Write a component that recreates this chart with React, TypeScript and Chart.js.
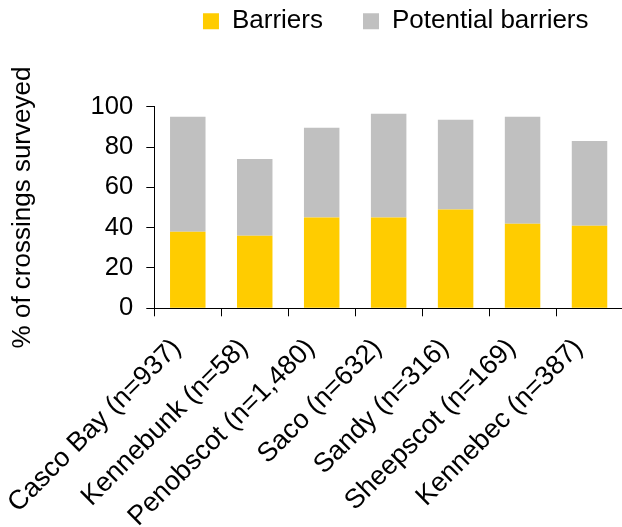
import React, { useEffect, useRef } from "react";
import { Chart, registerables } from "chart.js";

Chart.register(...registerables);

const categories = [
  "Casco Bay (n=937)",
  "Kennebunk (n=58)",
  "Penobscot (n=1,480)",
  "Saco (n=632)",
  "Sandy (n=316)",
  "Sheepscot (n=169)",
  "Kennebec (n=387)",
];
const seriesNames = ["Barriers", "Potential barriers"];
const barriers = [38, 36, 45, 45, 49, 42, 41];
const potentialBarriers = [57, 38, 44.5, 51.5, 44.5, 53, 42];
const yTicks = [0, 20, 40, 60, 80, 100];
const yTitle = "% of crossings surveyed";

const FONT = "'Liberation Sans', Arial, Helvetica, sans-serif";

const CANVAS_W = 640;
const CANVAS_H = 527;

// shifts the library's legend box to the reference position
const LEGEND_DX = 84.25;
const LEGEND_DY = -62.4;
const legendShift = {
  id: "legendShift",
  afterLayout(chart: any) {
    const lg = chart.legend;
    if (!lg) return;
    lg.left += LEGEND_DX;
    lg.right += LEGEND_DX;
    lg.top += LEGEND_DY;
    lg.bottom += LEGEND_DY;
  },
};

export default function App() {
  const ref = useRef<HTMLCanvasElement | null>(null);

  useEffect(() => {
    if (!ref.current) return;
    const chart = new Chart(ref.current, {
      type: "bar",
      data: {
        labels: categories,
        datasets: [
          {
            label: seriesNames[0],
            data: barriers,
            backgroundColor: "#FFCC00",
            borderWidth: 0,
            barPercentage: 0.53,
            categoryPercentage: 1,
          },
          {
            label: seriesNames[1],
            data: potentialBarriers,
            backgroundColor: "#C0C0C0",
            borderWidth: 0,
            barPercentage: 0.53,
            categoryPercentage: 1,
          },
        ],
      },
      plugins: [legendShift],
      options: {
        animation: false,
        responsive: false,
        maintainAspectRatio: false,
        layout: { padding: { left: 0, right: 17, top: 30.7, bottom: 0 } },
        plugins: {
          legend: {
            display: true,
            position: "top",
            align: "center",
            labels: {
              boxWidth: 16,
              boxHeight: 16,
              padding: 40,
              color: "#000",
              font: { family: FONT, size: 26 },
            },
          },
          tooltip: { enabled: false },
        },
        scales: {
          x: {
            stacked: true,
            grid: {
              display: true,
              offset: true,
              drawOnChartArea: false,
              drawTicks: true,
              tickLength: 8,
              color: "#000",
              lineWidth: 1,
            },
            border: { display: true, color: "#000", width: 1 },
            ticks: {
              color: "#000",
              font: { family: FONT, size: 27 },
              minRotation: 45,
              maxRotation: 45,
              autoSkip: false,
              padding: 16,
              labelOffset: -11,
            },
            afterFit: (s: any) => {
              s.height = 218.7;
              s.paddingLeft = 0;
              s.paddingRight = 0;
            },
          },
          y: {
            stacked: true,
            min: yTicks[0],
            max: yTicks[yTicks.length - 1],
            grid: {
              display: true,
              drawOnChartArea: false,
              drawTicks: true,
              tickLength: 8,
              color: "#000",
              lineWidth: 1,
            },
            border: { display: true, color: "#000", width: 1 },
            ticks: {
              stepSize: yTicks[1] - yTicks[0],
              color: "#000",
              padding: 13,
              font: { family: FONT, size: 25.6 },
            },
            title: {
              display: true,
              text: yTitle,
              color: "#000",
              font: { family: FONT, size: 26 },
              padding: { top: 7, bottom: 0 },
            },
            afterFit: (s: any) => {
              s.width = 154.3;
            },
          },
        },
      },
    } as any);
    return () => chart.destroy();
  }, []);

  return (
    <div
      style={{
        position: "absolute",
        left: 0,
        top: 0,
        width: 622,
        height: 527,
        overflow: "hidden",
        background: "#fff",
      }}
    >
      <canvas
        ref={ref}
        width={CANVAS_W}
        height={CANVAS_H}
        style={{ display: "block", width: CANVAS_W, height: CANVAS_H }}
      />
    </div>
  );
}
